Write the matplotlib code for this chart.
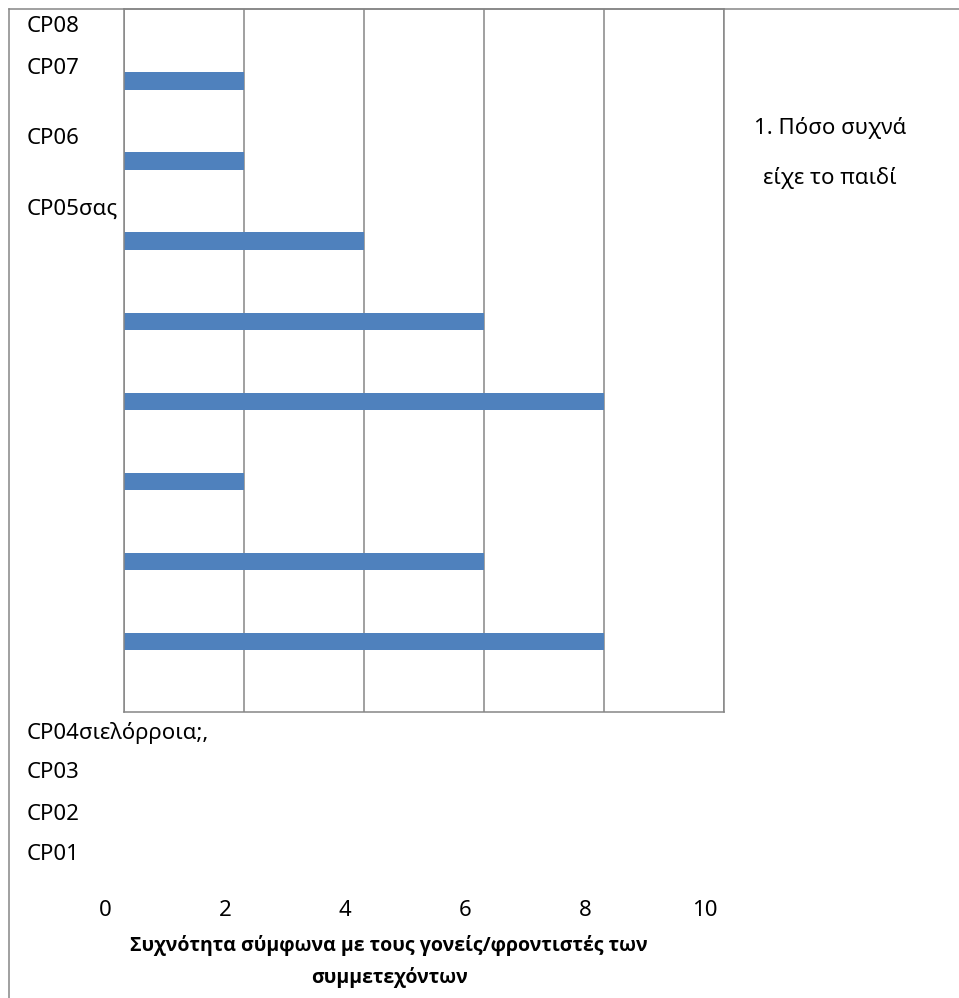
import matplotlib
matplotlib.use("Agg")
import matplotlib.pyplot as plt
from matplotlib import transforms
from matplotlib.lines import Line2D

# Data
categories = ["CP01", "CP02", "CP03", "CP04", "CP05", "CP06", "CP07", "CP08"]
values = [8, 6, 2, 8, 6, 4, 2, 2]
xticks = [0, 2, 4, 6, 8, 10]
cat_labels = ["CP08", "CP07", "CP06", "CP05σας", "CP04σιελόρροια;,", "CP03", "CP02", "CP01"]
side_text = ["1. Πόσο συχνά", "είχε το παιδί"]
xlabel_lines = ["Συχνότητα σύμφωνα με τους γονείς/φροντιστές των", "συμμετεχόντων"]

W, H, DPI = 959, 998, 100
plt.rcParams["font.family"] = ["Noto Sans", "DejaVu Sans"]

GRAY = "#868686"
BAR = "#4F81BD"

fig = plt.figure(figsize=(W / DPI, H / DPI), dpi=DPI)


def fx(px):
    return px / W


def fy(py):
    return 1 - py / H


ax = fig.add_axes([fx(124), fy(712), fx(724) - fx(124), fy(9) - fy(712)])

ypos = list(range(len(categories)))
ax.barh(ypos, values, height=0.2125, color=BAR, zorder=3)
ax.set_xlim(0, 10)
ax.set_ylim(-0.8875, 7.9)

ax.set_xticks(xticks)
ax.xaxis.grid(True, color=GRAY, linewidth=1.1, zorder=1)
ax.set_axisbelow(True)
ax.tick_params(axis="both", length=0, labelbottom=False, labelleft=False)
ax.set_yticks([])
for side in ["left", "right", "bottom", "top"]:
    ax.spines[side].set_color(GRAY)
    ax.spines[side].set_linewidth(1.1)
    ax.spines[side].set_zorder(4)

# x tick labels, placed below the plot area
tick_tr = transforms.offset_copy(ax.get_xaxis_transform(), fig=fig, x=-19, y=-199, units="dots")
for v in xticks:
    ax.text(v, 0, str(v), transform=tick_tr, ha="center", va="center", fontsize=16, color="#000000")

# axis title (bold)
for py, line in zip([946, 977], xlabel_lines):
    fig.text(fx(389), fy(py), line, ha="center", va="center", fontsize=14,
             fontweight="bold", family=["Open Sans", "DejaVu Sans"])

# category labels
label_y = [27, 68, 139, 209, 733, 773, 814, 855]
for py, lab in zip(label_y, cat_labels):
    fig.text(fx(27), fy(py), lab, ha="left", va="center", fontsize=16)

# side text
for py, line in zip([128, 178], side_text):
    fig.text(fx(830), fy(py), line, ha="center", va="center", fontsize=16)

# outer frame lines
fig.add_artist(Line2D([fx(9), fx(959)], [fy(9), fy(9)], color=GRAY, linewidth=1.1))
fig.add_artist(Line2D([fx(9), fx(9)], [fy(9), fy(998)], color=GRAY, linewidth=1.1))

fig.savefig("out.png", dpi=DPI, facecolor="white")
